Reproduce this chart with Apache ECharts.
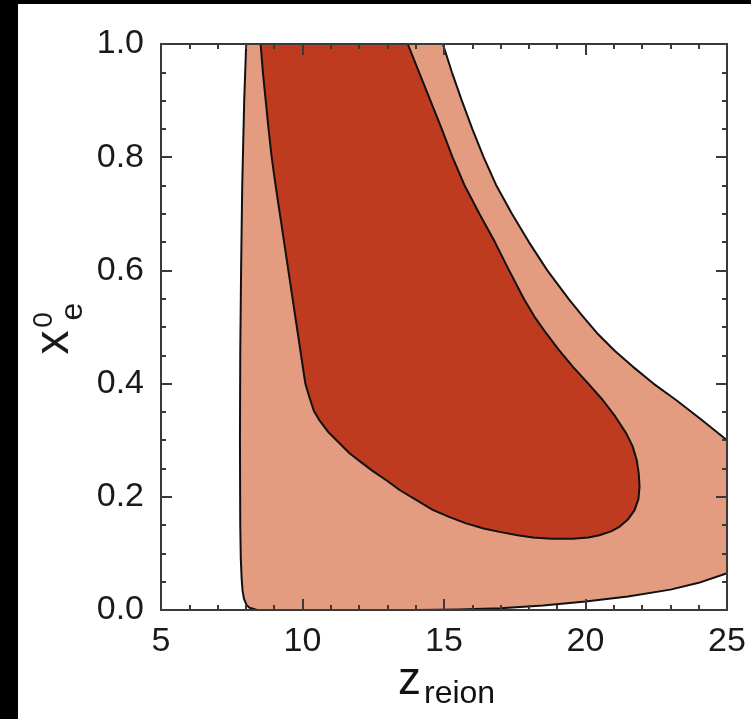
<!DOCTYPE html>
<html>
<head>
<meta charset="utf-8">
<script src="https://cdn.jsdelivr.net/npm/echarts@6/dist/echarts.min.js"></script>
<style>
  html, body { margin: 0; padding: 0; background: #000; width: 751px; height: 719px; overflow: hidden; }
  #contour { position: absolute; left: 18px; top: 4px; width: 733px; height: 715px; background: #fff; }
</style>
</head>
<body>
<div id="contour"></div>
<script>
// axis ticks
const xLabels = ['5', '10', '15', '20', '25']
const yLabels = ['0.0', '0.2', '0.4', '0.6', '0.8', '1.0']

// 95% region (z_reion, x_e^0)
const outerZ = [8.01, 7.94, 7.87, 7.83, 7.80, 7.79, 7.80, 7.82, 7.85, 7.88, 7.93, 8.02, 8.13, 8.40,
  10, 12, 14, 15.5, 17, 18.5, 20, 21.5, 23, 24, 25,
  25, 24.1, 23.2, 22.4, 21.67, 21.03, 20.41, 19.92, 19.43, 18.65, 18.0, 17.4, 16.84, 16.4, 16.0, 15.63, 15.28, 14.96]
const outerX = [1.0, 0.9, 0.75, 0.6, 0.45, 0.3, 0.15, 0.09, 0.055, 0.035, 0.02, 0.009, 0.004, 0.0,
  0, 0, 0, 0.001, 0.003, 0.008, 0.015, 0.024, 0.036, 0.048, 0.065,
  0.30, 0.336, 0.371, 0.40, 0.43, 0.458, 0.489, 0.518, 0.548, 0.6, 0.65, 0.7, 0.751, 0.8, 0.85, 0.9, 0.95, 1.0]

// 68% region
const innerZ = [8.52, 13.72, 14.12, 14.52, 14.92, 15.3, 15.72, 16.25, 16.8, 17.3, 17.84, 18.2,
  18.61, 19.05, 19.55, 20.1, 20.61, 21.05, 21.44, 21.66, 21.81, 21.88, 21.91, 21.87,
  21.73, 21.5, 21.2, 20.9, 20.49, 20.1, 19.55, 18.8, 18.14, 17.6, 16.96, 16.4,
  15.78, 15.2, 14.6, 14.0, 13.43, 13.0, 12.5, 12.1, 11.66, 11.3, 10.9, 10.6,
  10.4, 10.25, 10.1, 9.8, 9.5, 9.35, 9.2, 9.05, 8.91, 8.8, 8.7, 8.6]
const innerX = [1.0, 1.0, 0.95, 0.9, 0.85, 0.8, 0.751, 0.7, 0.65, 0.6, 0.548, 0.518,
  0.489, 0.46, 0.43, 0.40, 0.371, 0.342, 0.312, 0.29, 0.265, 0.242, 0.218, 0.196,
  0.176, 0.16, 0.147, 0.139, 0.132, 0.128, 0.126, 0.126, 0.128, 0.132, 0.138, 0.144,
  0.153, 0.164, 0.177, 0.195, 0.212, 0.228, 0.245, 0.26, 0.277, 0.295, 0.315, 0.335,
  0.352, 0.375, 0.4, 0.5, 0.6, 0.65, 0.7, 0.75, 0.8, 0.85, 0.9, 0.95]

const font = '"Liberation Sans", Arial, Helvetica, sans-serif'
const frameColor = '#3a3a3a'
const textColor = '#1a1a1a'

function region (zs, xs, color) {
  return {
    type: 'custom',
    coordinateSystem: 'cartesian2d',
    xAxisIndex: 0,
    yAxisIndex: 0,
    z: 2,
    silent: true,
    data: [0],
    renderItem (params, api) {
      const pts = zs.map((z, i) => api.coord([z, xs[i]]))
      return {
        type: 'polygon',
        shape: { points: pts },
        style: { fill: color, stroke: '#111', lineWidth: 2, lineJoin: 'round' }
      }
    }
  }
}

function xAxisOf (pos, labels) {
  return {
    type: 'value',
    position: pos,
    min: 5,
    max: 25,
    interval: 5,
    z: 5,
    axisLine: { show: true, onZero: false, lineStyle: { color: frameColor, width: 2 } },
    axisTick: { show: true, inside: true, length: 11, lineStyle: { color: frameColor, width: 2 } },
    minorTick: { show: true, splitNumber: 5, length: 5, lineStyle: { color: frameColor, width: 2 } },
    splitLine: { show: false },
    axisLabel: {
      show: labels,
      margin: 15,
      fontSize: 34,
      fontFamily: font,
      color: textColor,
      formatter: v => xLabels[Math.round((v - 5) / 5)]
    }
  }
}

function yAxisOf (pos, labels) {
  return {
    type: 'value',
    position: pos,
    min: 0,
    max: 1,
    interval: 0.2,
    z: 5,
    axisLine: { show: true, onZero: false, lineStyle: { color: frameColor, width: 2 } },
    axisTick: { show: true, inside: true, length: 11, lineStyle: { color: frameColor, width: 2 } },
    minorTick: { show: true, splitNumber: 4, length: 5, lineStyle: { color: frameColor, width: 2 } },
    splitLine: { show: false },
    axisLabel: {
      show: labels,
      margin: 17,
      fontSize: 34,
      fontFamily: font,
      color: textColor,
      formatter: v => yLabels[Math.round(v / 0.2)]
    }
  }
}

// an empty left axis that only carries one glyph of the y title
function nameAxis (text, size, gap, padding) {
  return {
    type: 'value',
    position: 'left',
    min: 0,
    max: 1,
    axisLine: { show: false },
    axisTick: { show: false },
    axisLabel: { show: false },
    splitLine: { show: false },
    name: text,
    nameLocation: 'middle',
    nameRotate: 90,
    nameGap: gap,
    nameTextStyle: { fontSize: size, lineHeight: size, fontFamily: font, color: textColor, padding: padding }
  }
}

const chart = echarts.init(document.getElementById('contour'))
const option = {
  backgroundColor: '#fff',
  animation: false,
  grid: { left: 143, top: 40, width: 566, height: 566 },
  xAxis: [xAxisOf('bottom', true), xAxisOf('top', false)],
  yAxis: [
    yAxisOf('left', true),
    yAxisOf('right', false),
    nameAxis('x', 48, 82, [0, 31, 0, 0]),
    nameAxis('0', 28, 103, [0, 0, 0, 14]),
    nameAxis('e', 32, 72, [0, 0, 0, 31])
  ],
  graphic: [
    { type: 'text', x: 380, y: 677, style: { text: 'z', font: '46px ' + font, fill: '#111', verticalAlign: 'middle' } },
    { type: 'text', x: 406, y: 690, style: { text: 'reion', font: '32px ' + font, fill: '#111', verticalAlign: 'middle' } }
  ],
  series: [
    region(outerZ, outerX, '#E49C80'),
    region(innerZ, innerX, '#BF3B1F')
  ]
}
chart.setOption(option)
</script>
</body>
</html>
